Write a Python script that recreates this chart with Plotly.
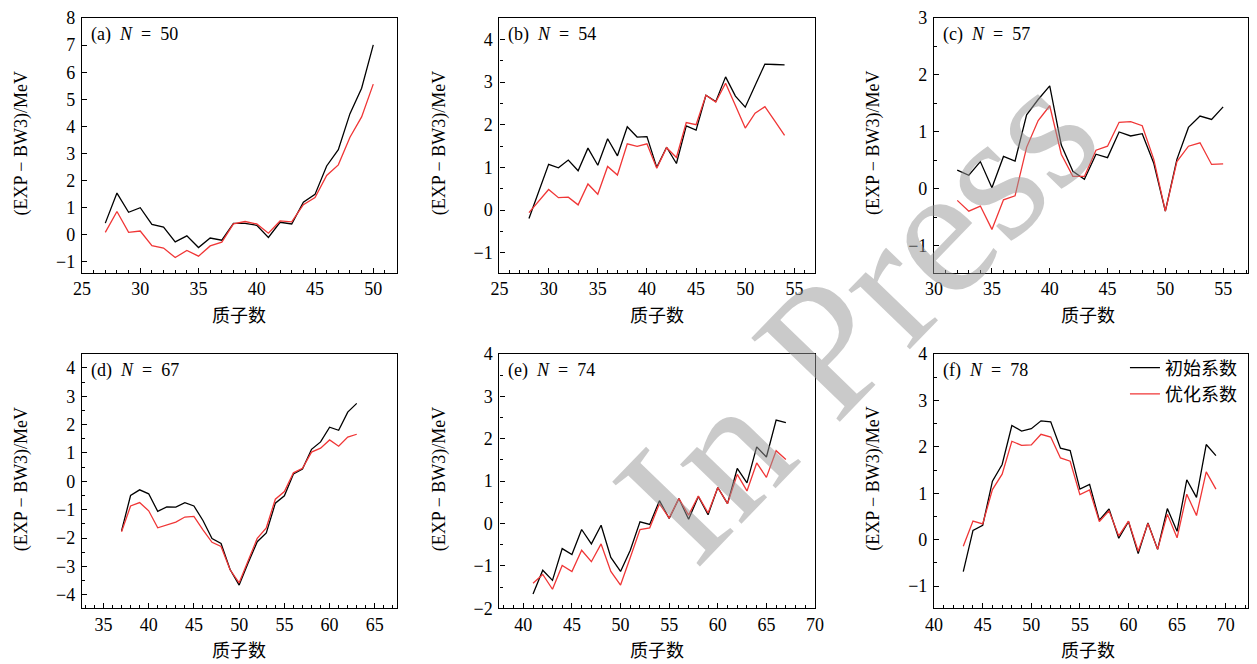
import plotly.graph_objects as go

# ---------------- data ----------------
z_a = list(range(27, 51))
init_a = [0.43, 1.54, 0.83, 1.0, 0.38, 0.28, -0.26, -0.04, -0.47, -0.12, -0.2, 0.42,
          0.42, 0.35, -0.1, 0.46, 0.40, 1.2, 1.49, 2.54, 3.14, 4.47, 5.41, 7.01]
opt_a = [0.09, 0.86, 0.09, 0.14, -0.4, -0.49, -0.84, -0.58, -0.79, -0.41, -0.27, 0.40,
         0.49, 0.40, 0.06, 0.51, 0.48, 1.11, 1.37, 2.19, 2.58, 3.6, 4.35, 5.56]

z_b = list(range(28, 55))
init_b = [-0.2, 0.44, 1.07, 0.99, 1.17, 0.92, 1.45, 1.05, 1.67, 1.27, 1.95, 1.71, 1.72,
          1.0, 1.47, 1.09, 1.97, 1.87, 2.69, 2.54, 3.12, 2.67, 2.41, 2.92, 3.42, 3.41, 3.40]
opt_b = [-0.06, 0.2, 0.48, 0.29, 0.30, 0.12, 0.61, 0.37, 1.02, 0.82, 1.55, 1.49, 1.55,
         0.98, 1.46, 1.23, 2.05, 2.0, 2.69, 2.53, 2.97, 2.45, 1.92, 2.27, 2.42, 2.09, 1.75]

z_c = list(range(32, 56))
init_c = [0.33, 0.24, 0.48, 0.02, 0.57, 0.49, 1.30, 1.57, 1.81, 0.77, 0.31, 0.17,
          0.61, 0.55, 1.0, 0.93, 0.97, 0.45, -0.39, 0.52, 1.08, 1.28, 1.22, 1.44]
opt_c = [-0.2, -0.39, -0.3, -0.71, -0.19, -0.12, 0.73, 1.2, 1.46, 0.61, 0.22, 0.22,
         0.68, 0.75, 1.17, 1.18, 1.11, 0.52, -0.39, 0.48, 0.75, 0.81, 0.43, 0.44]

z_d = list(range(37, 64))
init_d = [-1.75, -0.5, -0.3, -0.44, -1.06, -0.9, -0.91, -0.75, -0.87, -1.38, -2.02, -2.19,
          -3.11, -3.66, -2.87, -2.13, -1.82, -0.77, -0.51, 0.26, 0.43, 1.13, 1.39, 1.91,
          1.8, 2.44, 2.75]
opt_d = [-1.78, -0.87, -0.75, -1.04, -1.64, -1.54, -1.44, -1.26, -1.24, -1.71, -2.15, -2.3,
         -3.12, -3.58, -2.76, -2.01, -1.64, -0.63, -0.36, 0.3, 0.46, 1.03, 1.17, 1.46,
         1.24, 1.56, 1.66]

z_e = list(range(41, 68))
init_e = [-1.66, -1.1, -1.34, -0.59, -0.73, -0.14, -0.48, -0.04, -0.8, -1.13, -0.63, 0.04,
          -0.02, 0.54, 0.12, 0.59, 0.1, 0.64, 0.21, 0.85, 0.47, 1.3, 0.96, 1.81, 1.57,
          2.44, 2.38]
opt_e = [-1.41, -1.2, -1.55, -0.99, -1.13, -0.63, -0.9, -0.48, -1.13, -1.45, -0.8, -0.14,
         -0.1, 0.47, 0.13, 0.59, 0.2, 0.65, 0.25, 0.85, 0.47, 1.16, 0.77, 1.43, 1.09,
         1.72, 1.51]

z_f = list(range(43, 70))
init_f = [-0.69, 0.2, 0.31, 1.26, 1.62, 2.46, 2.34, 2.39, 2.56, 2.54, 1.97, 1.92, 1.09,
          1.19, 0.42, 0.66, 0.03, 0.39, -0.3, 0.36, -0.21, 0.67, 0.18, 1.29, 0.91, 2.05, 1.81]
opt_f = [-0.14, 0.4, 0.34, 1.08, 1.41, 2.12, 2.03, 2.04, 2.27, 2.21, 1.76, 1.69, 0.97,
         1.07, 0.39, 0.62, 0.08, 0.4, -0.25, 0.35, -0.21, 0.55, 0.04, 0.98, 0.52, 1.46, 1.09]

EN = "\u2002"
panel_labels = [f"(a){EN}<i>N</i>{EN}={EN}50", f"(b){EN}<i>N</i>{EN}={EN}54",
                f"(c){EN}<i>N</i>{EN}={EN}57", f"(d){EN}<i>N</i>{EN}={EN}67",
                f"(e){EN}<i>N</i>{EN}={EN}74", f"(f){EN}<i>N</i>{EN}={EN}78"]
series_names = ["初始系数", "优化系数"]
x_title = "质子数"
y_title = "(EXP − BW3)/MeV"
watermark = "In Press"

# ---------------- layout geometry (screen pixels; page body has an 8px margin) ----------------
OFF = 8
W, H = 1257 - OFF, 664 - OFF
ML, MR, MT, MB = 74, 0, 7, 48   # in figure pixels
PW, PH = W - ML - MR, H - MT - MB

def clamp(v):
    return max(0.0, min(1.0, v))

def dx(p):
    return (p - OFF - ML) / PW

def dy(p):
    return (H - MB - (p - OFF)) / PH

col_px = [(81.7, 399.0), (502.7, 820.7), (940.7, 1257.0)]
row_px = [(15.0, 271.0), (352.7, 608.3)]

x_ranges = [[25, 52.0], [25, 57.1], [30, 57.15], [32.63, 67.4], [37.55, 70.0], [40, 72.3]]
y_ranges = [[-1.4, 8.0], [-1.47, 4.5], [-1.47, 3.0], [-4.48, 4.49], [-2.0, 4.0], [-1.48, 4.0]]
y_minor = [None, 0.5, 0.5, 0.5, 0.5, 0.5]

panels = [(z_a, init_a, opt_a), (z_b, init_b, opt_b), (z_c, init_c, opt_c),
          (z_d, init_d, opt_d), (z_e, init_e, opt_e), (z_f, init_f, opt_f)]

SERIF = "Liberation Serif, Noto Sans CJK SC, serif"
CJK = "Noto Sans CJK SC, sans-serif"
BLACK = "#000000"
RED = "#f03636"

fig = go.Figure()
annotations = []

for i, (z, ini, opt) in enumerate(panels):
    r, c = divmod(i, 3)
    n = i + 1
    xa = "x" if n == 1 else f"x{n}"
    ya = "y" if n == 1 else f"y{n}"
    show = (i == 5)
    fig.add_trace(go.Scatter(x=z, y=ini, mode="lines", name=series_names[0],
                             line=dict(color=BLACK, width=1.3), xaxis=xa, yaxis=ya,
                             showlegend=show))
    fig.add_trace(go.Scatter(x=z, y=opt, mode="lines", name=series_names[1],
                             line=dict(color=RED, width=1.3), xaxis=xa, yaxis=ya,
                             showlegend=show))
    x0, x1 = col_px[c]
    y0, y1 = row_px[r]
    xkey = "xaxis" if n == 1 else f"xaxis{n}"
    ykey = "yaxis" if n == 1 else f"yaxis{n}"
    fig.layout[xkey] = dict(
        domain=[clamp(dx(x0)), clamp(dx(x1))], range=x_ranges[i], anchor=ya,
        showline=True, linecolor="black", linewidth=1.3, mirror=True,
        ticks="inside", ticklen=5, tickwidth=1, tickcolor="black", dtick=5, tick0=0,
        minor=dict(ticks="inside", ticklen=3, dtick=1, tick0=0, tickcolor="black"),
        showgrid=False, zeroline=False,
        tickfont=dict(family=SERIF, size=18, color="black"),
    )
    ymin = dict(ticks="inside", ticklen=3, dtick=y_minor[i], tick0=0, tickcolor="black") \
        if y_minor[i] else dict(ticks="")
    fig.layout[ykey] = dict(
        domain=[clamp(dy(y1)), clamp(dy(y0))], range=y_ranges[i], anchor=xa,
        showline=True, linecolor="black", linewidth=1.3, mirror=True,
        ticks="inside", ticklen=5, tickwidth=1, tickcolor="black", dtick=1, tick0=0,
        minor=ymin, showgrid=False, zeroline=False, ticklabelstandoff=2,
        tickfont=dict(family=SERIF, size=18, color="black"),
    )
    # panel label
    annotations.append(dict(text=panel_labels[i], xref="paper", yref="paper",
                            x=dx(x0 + 7), y=dy(y0 + 17), xanchor="left", yanchor="middle",
                            showarrow=False, font=dict(family=SERIF, size=18, color="black")))
    # x title
    xc = (x0 + x1) / 2 if c < 2 else (x0 + x1) / 2 - 3
    annotations.append(dict(text=x_title, xref="paper", yref="paper",
                            x=dx(xc), y=dy(y1 + 41), xanchor="center", yanchor="middle",
                            showarrow=False, font=dict(family=CJK, size=18, color="black")))
    # y title
    annotations.append(dict(text=y_title, xref="paper", yref="paper",
                            x=dx(x0 - 61), y=dy((y0 + y1) / 2 - 2), xanchor="center",
                            yanchor="middle", textangle=-90, showarrow=False,
                            font=dict(family=SERIF, size=18, color="black")))

# watermark
annotations.append(dict(text=watermark, xref="paper", yref="paper",
                        x=dx(862), y=dy(312), xanchor="center", yanchor="middle",
                        textangle=-46, showarrow=False,
                        font=dict(family="Liberation Serif, serif", size=186,
                                  color="rgba(150,150,150,0.5)")))

fig.update_layout(
    width=W, height=H,
    margin=dict(l=ML, r=MR, t=MT, b=MB, pad=0),
    paper_bgcolor="white", plot_bgcolor="white",
    annotations=annotations,
    showlegend=True,
    legend=dict(x=dx(1133), y=dy(348), xanchor="left", yanchor="top",
                bgcolor="rgba(0,0,0,0)", borderwidth=0,
                font=dict(family="Noto Sans CJK SC, serif", size=18, color="black"),
                itemwidth=30, tracegroupgap=0),
)

fig.write_html("out.html")
